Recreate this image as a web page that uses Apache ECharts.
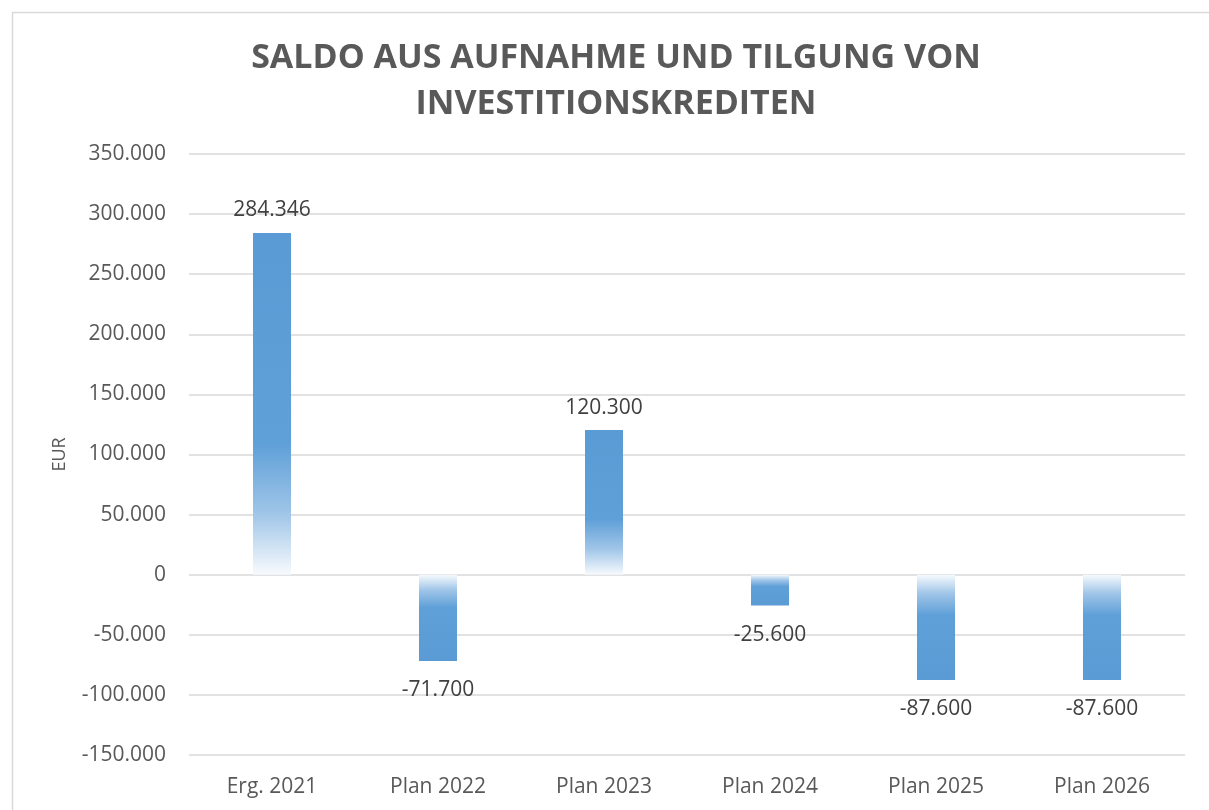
<!DOCTYPE html>
<html>
<head>
<meta charset="utf-8">
<script src="https://cdn.jsdelivr.net/npm/echarts@6/dist/echarts.min.js"></script>
<style>
  html, body { margin: 0; padding: 0; background: #fff; }
  #chart { width: 1209px; height: 810px; }
</style>
</head>
<body>
<div id="chart"></div>
<script>
// Daten
const categories = ['Erg. 2021', 'Plan 2022', 'Plan 2023', 'Plan 2024', 'Plan 2025', 'Plan 2026']
const saldo = [284346, -71700, 120300, -25600, -87600, -87600]
const yTicks = { min: -150000, max: 350000, interval: 50000 }

const blue = '#5b9bd5'

// Zahl mit Punkt als Tausendertrenner
function fmt(v) {
  const s = Math.abs(v).toString().replace(/\B(?=(\d{3})+(?!\d))/g, '.')
  return (v < 0 ? '-' : '') + s
}

// Verlauf: voll am Ende des Balkens, weiß zur Nulllinie hin
function barColor(v) {
  const stops = [
    { offset: 0, color: blue },
    { offset: 0.62, color: '#60a0d8' },
    { offset: 0.82, color: '#9fc5e8' },
    { offset: 1, color: '#f7fafd' }
  ]
  if (v < 0) {
    return new echarts.graphic.LinearGradient(0, 1, 0, 0, stops)
  }
  return new echarts.graphic.LinearGradient(0, 0, 0, 1, stops)
}

const chart = echarts.init(document.getElementById('chart'))
const option = {
  animation: false,
  textStyle: { fontFamily: 'Open Sans' },
  graphic: [
    {
      type: 'rect',
      left: 10, top: 10,
      shape: { width: 1230, height: 840 },
      style: { fill: 'none', stroke: '#d9d9d9', lineWidth: 1.5 },
      silent: true
    }
  ],
  title: {
    text: 'SALDO AUS AUFNAHME UND TILGUNG VON\nINVESTITIONSKREDITEN',
    left: 611,
    textAlign: 'center',
    top: 30,
    textStyle: {
      color: '#595959',
      fontSize: 34,
      fontWeight: 'bold',
      lineHeight: 46,
      fontFamily: 'Open Sans'
    }
  },
  grid: { left: 189, right: 24, top: 154, bottom: 55 },
  xAxis: {
    type: 'category',
    data: categories,
    axisLine: { show: false },
    axisTick: { show: false },
    axisLabel: { color: '#595959', fontSize: 21, margin: 22 }
  },
  yAxis: {
    type: 'value',
    min: yTicks.min,
    max: yTicks.max,
    interval: yTicks.interval,
    name: 'EUR',
    nameLocation: 'middle',
    nameGap: 120,
    nameTextStyle: { color: '#595959', fontSize: 18 },
    axisLine: { show: false },
    axisTick: { show: false },
    axisLabel: { color: '#595959', fontSize: 21, margin: 23, formatter: fmt },
    splitLine: { lineStyle: { color: '#d9d9d9', width: 1.5 } }
  },
  series: [
    {
      type: 'bar',
      barWidth: 38,
      data: saldo.map(v => ({
        value: v,
        itemStyle: { color: barColor(v) },
        label: { position: v < 0 ? 'bottom' : 'top', distance: v < 0 ? 19 : 12 }
      })),
      label: {
        show: true,
        color: '#404040',
        fontSize: 21,
        formatter: p => fmt(p.value)
      }
    }
  ]
}
chart.setOption(option)
</script>
</body>
</html>
